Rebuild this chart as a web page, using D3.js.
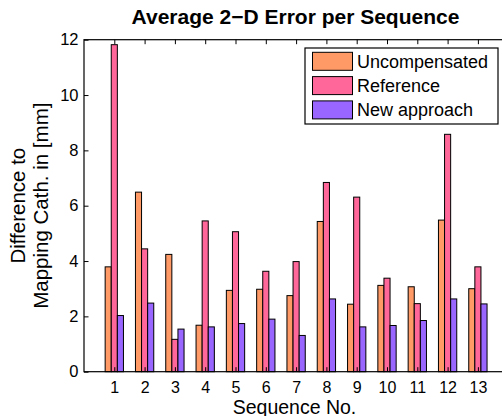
<!DOCTYPE html>
<html>
<head>
<meta charset="utf-8">
<script src="https://cdn.jsdelivr.net/npm/d3@7"></script>
<style>
    body { margin: 0; background: #fff; }
    text { font-family: "Liberation Sans", Arial, Helvetica, sans-serif; fill: #000; }
</style>
</head>
<body>
<div id="chart"></div>
<script>
// data
var sequences = [1, 2, 3, 4, 5, 6, 7, 8, 9, 10, 11, 12, 13];
var seriesNames = ["Uncompensated", "Reference", "New approach"];
var uncompensated = [3.79, 6.49, 4.24, 1.68, 2.94, 2.98, 2.75, 5.43, 2.44, 3.12, 3.07, 5.48, 3.00];
var reference = [11.82, 4.44, 1.17, 5.45, 5.06, 3.63, 3.98, 6.84, 6.31, 3.38, 2.46, 8.58, 3.79];
var newApproach = [2.03, 2.48, 1.54, 1.62, 1.74, 1.90, 1.31, 2.63, 1.62, 1.67, 1.85, 2.63, 2.45];
var yTicks = [0, 2, 4, 6, 8, 10, 12];

var seriesValues = [uncompensated, reference, newApproach];
var colors = ["#ff9966", "#ff6699", "#9966ff"];

// parameters
var svgWidth = 502;
var svgHeight = 416;

var margin = {
    top: 39.7,
    left: 84,
    bottom: 44.3
};
var plotRight = 508.2;
var plotBottom = svgHeight - margin.bottom;
var tickLen = 4.5;

var svg = d3.select("#chart")
    .append("svg")
    .attr("width", svgWidth)
    .attr("height", svgHeight);

// scales
var xScale = d3.scaleLinear()
    .domain([0, 14])
    .range([margin.left, plotRight]);

var groupWidth = (xScale(1) - xScale(0)) * 0.604;

var subScale = d3.scaleBand()
    .domain(seriesNames)
    .range([-groupWidth / 2, groupWidth / 2]);

var yScale = d3.scaleLinear()
    .domain([0, 12])
    .range([plotBottom, margin.top]);

// bars
var rows = [];
sequences.forEach(function (s, i) {
    seriesNames.forEach(function (name, j) {
        rows.push({ seq: s, series: name, value: seriesValues[j][i], color: colors[j] });
    });
});

svg.append("g")
    .selectAll("rect")
    .data(rows)
    .enter()
    .append("rect")
    .attr("x", d => xScale(d.seq) + subScale(d.series))
    .attr("y", d => yScale(d.value))
    .attr("width", subScale.bandwidth())
    .attr("height", d => yScale(0) - yScale(d.value))
    .attr("fill", d => d.color)
    .attr("stroke", "#000")
    .attr("stroke-width", 1);

// axes (box with inward ticks)
var xAxis = d3.axisBottom(xScale)
    .tickValues(sequences)
    .tickSize(-tickLen)
    .tickPadding(9.5)
    .tickFormat(d3.format("d"));

var yAxis = d3.axisLeft(yScale)
    .tickValues(yTicks)
    .tickSize(-tickLen)
    .tickPadding(5.5)
    .tickFormat(d3.format("d"));

var xAxisTop = d3.axisTop(xScale)
    .tickValues(sequences)
    .tickSize(-tickLen)
    .tickFormat("");

var yAxisRight = d3.axisRight(yScale)
    .tickValues(yTicks)
    .tickSize(-tickLen)
    .tickFormat("");

function styleAxis(g, size) {
    g.selectAll("line").attr("stroke", "#000").attr("stroke-width", 1);
    g.selectAll("text").attr("font-size", size + "px").attr("fill", "#000");
    g.attr("font-family", null);
}

svg.append("g")
    .attr("class", "x-axis")
    .attr("transform", `translate(0, ${plotBottom})`)
    .call(xAxis)
    .call(styleAxis, 16);

svg.append("g")
    .attr("class", "y-axis")
    .attr("transform", `translate(${margin.left}, 0)`)
    .call(yAxis)
    .call(styleAxis, 16.5);

svg.append("g")
    .attr("transform", `translate(0, ${margin.top})`)
    .call(xAxisTop)
    .call(styleAxis, 16);

svg.append("g")
    .attr("transform", `translate(${plotRight}, 0)`)
    .call(yAxisRight)
    .call(styleAxis, 16);

// plain box instead of the axis domain paths
svg.selectAll(".domain").remove();
svg.append("rect")
    .attr("x", margin.left)
    .attr("y", margin.top)
    .attr("width", plotRight - margin.left)
    .attr("height", plotBottom - margin.top)
    .attr("fill", "none")
    .attr("stroke", "#000")
    .attr("stroke-width", 1.2);

// title and labels
svg.append("text")
    .attr("x", 295.5)
    .attr("y", 24)
    .attr("text-anchor", "middle")
    .attr("font-size", "21px")
    .attr("font-weight", "bold")
    .text("Average 2\u2212D Error per Sequence");

svg.append("text")
    .attr("x", 294.5)
    .attr("y", 413.5)
    .attr("text-anchor", "middle")
    .attr("font-size", "19.5px")
    .text("Sequence No.");

var yLabel = svg.append("text")
    .attr("transform", `translate(0, ${(margin.top + plotBottom) / 2}) rotate(-90)`)
    .attr("text-anchor", "middle")
    .attr("font-size", "20.5px");

yLabel.append("tspan")
    .attr("x", 0)
    .attr("y", 25)
    .text("Difference to");

yLabel.append("tspan")
    .attr("x", 0)
    .attr("y", 48)
    .text("Mapping Cath. in [mm]");

// legend
var legend = svg.append("g")
    .attr("transform", "translate(305, 48)");

legend.append("rect")
    .attr("width", 193)
    .attr("height", 76)
    .attr("fill", "#fff")
    .attr("stroke", "#000")
    .attr("stroke-width", 1.2);

var legendItems = legend.selectAll(".legend-item")
    .data(seriesNames)
    .enter()
    .append("g")
    .attr("class", "legend-item")
    .attr("transform", (d, i) => `translate(0, ${4.3 + i * 24.3})`);

legendItems.append("rect")
    .attr("x", 7.5)
    .attr("width", 40)
    .attr("height", 18)
    .attr("fill", (d, i) => colors[i])
    .attr("stroke", "#000")
    .attr("stroke-width", 1);

legendItems.append("text")
    .attr("x", 52)
    .attr("y", 15.5)
    .attr("font-size", "18px")
    .text(d => d);
</script>
</body>
</html>
